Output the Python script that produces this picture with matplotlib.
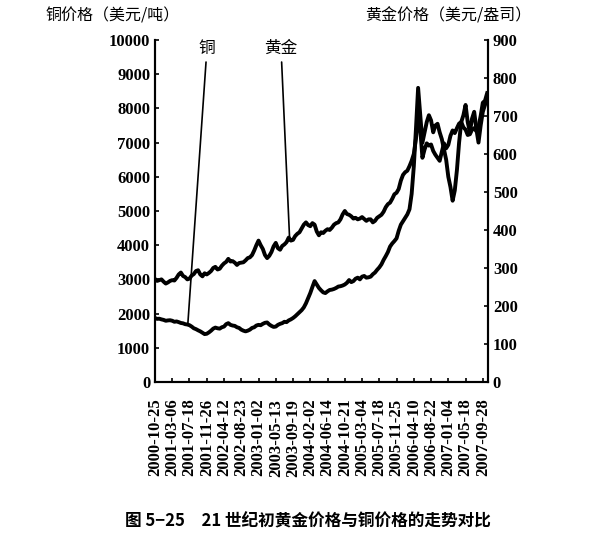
import numpy as np
import matplotlib.pyplot as plt

# tick dates (category labels on the x axis)
dates = ['2000-10-25', '2001-03-06', '2001-07-18', '2001-11-26', '2002-04-12',
         '2002-08-23', '2003-01-02', '2003-05-13', '2003-09-19', '2004-02-02',
         '2004-06-14', '2004-10-21', '2005-03-04', '2005-07-18', '2005-11-25',
         '2006-04-10', '2006-08-22', '2007-01-04', '2007-05-18', '2007-09-28']

# gold, USD/oz (right axis), 8 readings per tick interval
gold = [271, 266, 268, 270, 264, 259, 262, 266, 268, 267,
        274, 283, 288, 279, 276, 270, 272, 280, 284, 292,
        294, 283, 278, 286, 283, 287, 292, 300, 303, 296,
        298, 306, 312, 316, 324, 317, 318, 314, 308, 313,
        314, 315, 320, 326, 328, 334, 346, 360, 372, 360,
        350, 334, 326, 332, 342, 357, 366, 352, 348, 358,
        362, 368, 380, 372, 374, 384, 390, 394, 404, 414,
        420, 413, 410, 418, 414, 396, 386, 394, 392, 398,
        402, 400, 406, 414, 418, 420, 428, 441, 450, 442,
        440, 436, 430, 432, 428, 430, 434, 429, 424, 428,
        428, 420, 424, 432, 436, 440, 448, 460, 468, 472,
        482, 494, 498, 508, 530, 545, 552, 556, 568, 582,
        600, 640, 700, 665, 590, 612, 628, 622, 625, 608,
        598, 590, 582, 606, 628, 615, 624, 648, 662, 655,
        668, 680, 684, 670, 664, 650, 652, 664, 668, 660,
        672, 700, 735, 740, 760]

# copper, USD/t (left axis)
copper = [1870, 1845, 1850, 1830, 1815, 1790, 1800, 1805, 1790, 1760,
          1770, 1750, 1725, 1715, 1690, 1680, 1660, 1620, 1570, 1545,
          1510, 1480, 1440, 1400, 1410, 1450, 1500, 1560, 1590, 1570,
          1560, 1600, 1620, 1690, 1720, 1670, 1650, 1640, 1600, 1580,
          1530, 1500, 1480, 1500, 1530, 1580, 1600, 1650, 1670, 1660,
          1700, 1730, 1740, 1680, 1640, 1610, 1620, 1670, 1700, 1720,
          1760, 1750, 1800, 1830, 1870, 1920, 1980, 2040, 2100, 2180,
          2300, 2450, 2600, 2780, 2950, 2850, 2750, 2680, 2620, 2600,
          2650, 2690, 2700, 2720, 2750, 2790, 2800, 2820, 2850, 2900,
          2980, 2920, 2950, 3020, 3050, 3000, 3080, 3100, 3050, 3060,
          3080, 3150, 3200, 3280, 3350, 3440, 3570, 3680, 3800, 3960,
          4050, 4120, 4200, 4420, 4600, 4700, 4800, 4900, 5050, 5500,
          6300, 7400, 8600, 7800, 7000, 7300, 7600, 7800, 7650, 7300,
          7500, 7550, 7300, 7100, 6800, 6500, 6000, 5700, 5300, 5600,
          6200, 7000, 7600, 7800, 8100, 7600, 7300, 7700, 7900, 7400,
          7000, 7500, 7900, 8100, 8300]

x = np.arange(len(gold)) * 0.125

plt.rcParams['font.family'] = ['Liberation Serif', 'Noto Sans CJK SC']
cjk = ['Noto Sans CJK SC', 'DejaVu Sans']

fig = plt.figure(figsize=(6.09, 5.5), dpi=100)
ax = fig.add_axes([0.2545, 0.3055, 0.5468, 0.6218])
ax2 = ax.twinx()

ax.plot(x, copper, color='black', lw=2.8, solid_joinstyle='round')
ax2.plot(x, gold, color='black', lw=2.8, solid_joinstyle='round')

ax.set_xlim(0, 19.3)
ax.set_ylim(0, 10000)
ax2.set_ylim(0, 900)
ax.set_yticks(range(0, 10001, 1000))
ax2.set_yticks(range(0, 901, 100))
ax.set_xticks(range(len(dates)))
ax.set_xticklabels(dates, rotation=90, fontsize=12.5, fontweight='bold')

for a in (ax, ax2):
    a.spines['top'].set_visible(False)
    for s in ('left', 'right', 'bottom'):
        a.spines[s].set_linewidth(1.5)
    a.tick_params(direction='in', length=3, width=1.2, labelsize=12)
    for lab in a.get_yticklabels():
        lab.set_fontweight('bold')
ax.tick_params(axis='x', pad=12)

ax.annotate('铜', xy=(1.9, 1670), xytext=(207 / 609, 1 - 48 / 550),
            textcoords='figure fraction', ha='center', va='center',
            fontsize=12, family=cjk,
            arrowprops=dict(arrowstyle='-', lw=1.2, color='black', shrinkB=0))
ax2.annotate('黄金', xy=(7.8, 379), xytext=(281 / 609, 1 - 48 / 550),
             textcoords='figure fraction', ha='center', va='center',
             fontsize=12, family=cjk,
             arrowprops=dict(arrowstyle='-', lw=1.2, color='black', shrinkB=0))

fig.text(45 / 609, 1 - 16 / 550, '铜价格（美元/吨）', ha='left', va='center',
         fontsize=11.5, family=cjk)
fig.text(365 / 609, 1 - 16 / 550, '黄金价格（美元/盎司）', ha='left', va='center',
         fontsize=11.5, family=cjk)
fig.text(0.505, 1 - 522 / 550, '图 5−25　21 世纪初黄金价格与铜价格的走势对比',
         ha='center', va='center', fontsize=12, fontweight='bold', family=cjk)

fig.savefig('out.png', dpi=100)
